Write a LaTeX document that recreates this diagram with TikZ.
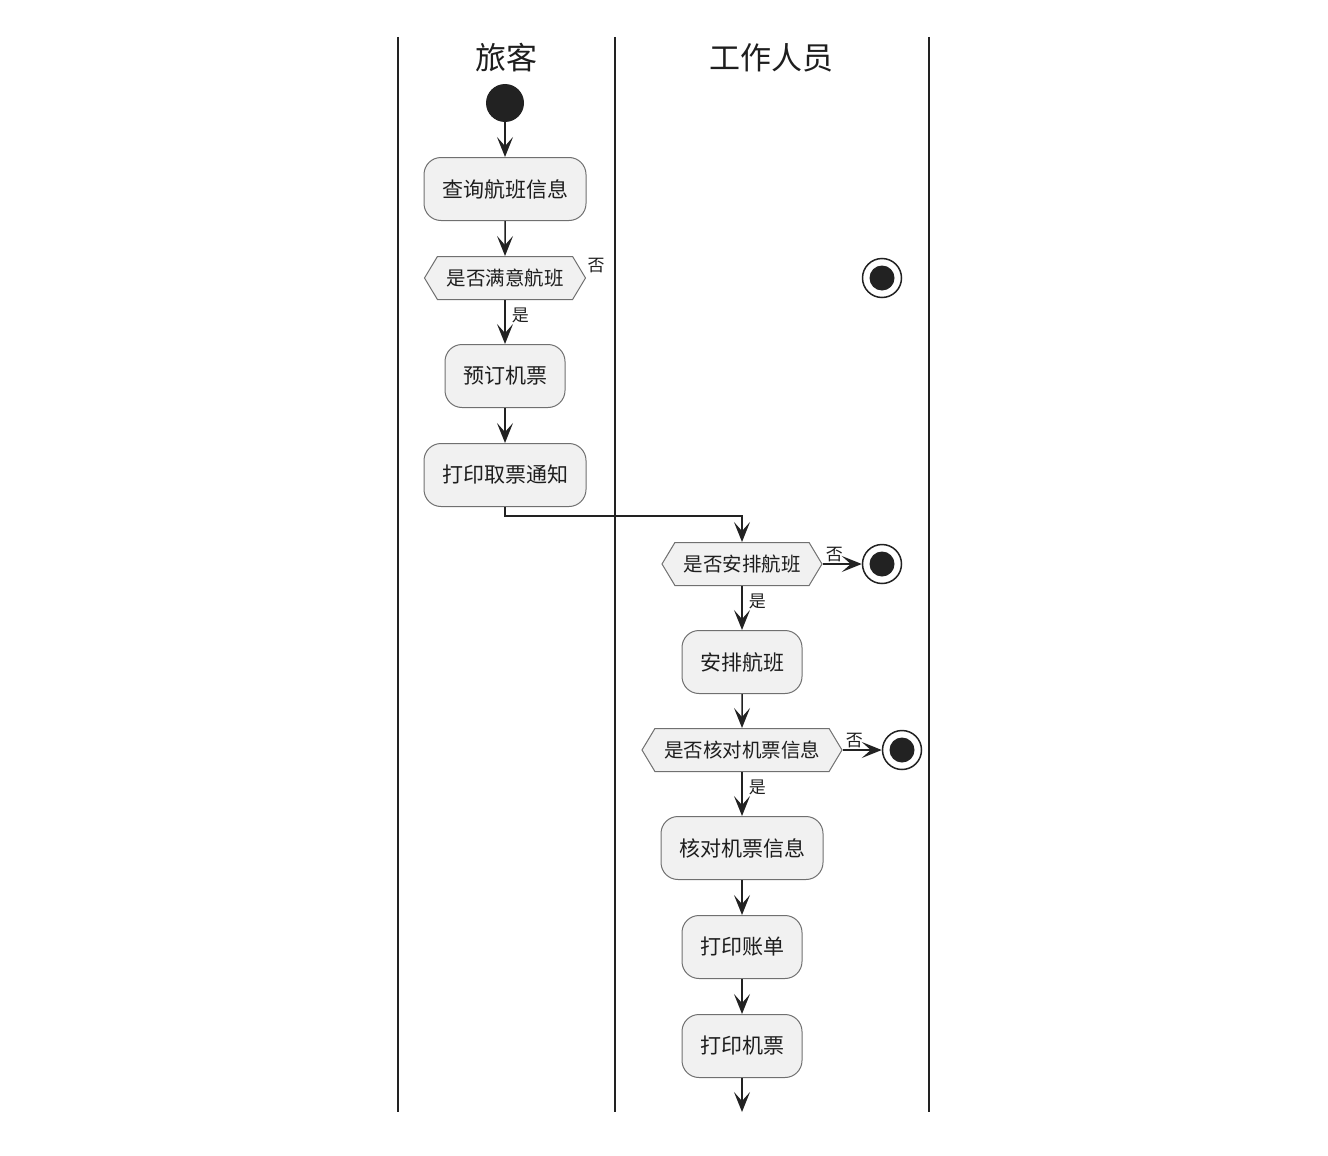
\documentclass[tikz,border=0pt]{standalone}
\usepackage{fontspec}
\setmainfont{Noto Sans CJK SC}
\usetikzlibrary{arrows.meta,shapes.symbols}
\definecolor{ln}{HTML}{222222}
\definecolor{bd}{HTML}{707070}
\definecolor{bx}{HTML}{F1F1F1}
\definecolor{tx}{HTML}{1E1E1E}
\tikzset{
  act/.style={draw=bd,fill=bx,line width=1pt,rounded corners=17pt,minimum height=63pt,inner xsep=18pt,text=tx,font=\fontsize{21}{24}\selectfont},
  dec/.style={draw=bd,fill=bx,line width=1pt,shape=signal,signal to=west and east,signal pointer angle=118,minimum height=43pt,inner xsep=4pt,inner ysep=0pt,text=tx,font=\fontsize{19.5}{22}\selectfont},
  arr/.style={draw=ln,line width=1.5pt,-{Stealth[length=20pt,width=16pt,inset=9pt]}},
  lane/.style={draw=ln,line width=2.2pt},
  lbl/.style={font=\fontsize{17}{20}\selectfont,inner sep=1pt,text=tx},
  title/.style={font=\fontsize{31}{34}\selectfont,text=tx},
  startn/.style={circle,fill=ln,minimum size=38pt,inner sep=0pt},
  endn/.style={circle,draw=ln,fill=white,line width=1.5pt,minimum size=39pt,inner sep=0pt,path picture={\fill[ln] (path picture bounding box.center) circle (12.5pt);}}
}
\begin{document}
\begin{tikzpicture}[x=1pt,y=-1pt]
\useasboundingbox (0,0) rectangle (1328,1156);
% lanes
\coordinate (l1t) at (398,37); \coordinate (l1b) at (398,1112);
\coordinate (l2t) at (615,37); \coordinate (l2b) at (615,1112);
\coordinate (l3t) at (929,37); \coordinate (l3b) at (929,1112);
\draw[lane] (l1t) -- (l1b);
\draw[lane] (l2t) -- (l2b);
\draw[lane] (l3t) -- (l3b);
\node[title] (t1) at (506,58) {旅客};
\node[title] (t2) at (771,58) {工作人员};
% nodes
\node[startn] (s) at (505,103) {};
\node[act] (a1) at (505,189) {查询航班信息};
\node[dec,minimum width=161pt] (d1) at (505,278) {是否满意航班};
\node[endn] (e1) at (882,278) {};
\node[act] (a2) at (505,376) {预订机票};
\node[act] (a3) at (505,475) {打印取票通知};
\node[dec,minimum width=160pt] (d2) at (742,564) {是否安排航班};
\node[endn] (e2) at (882,564) {};
\node[act] (a4) at (742,662) {安排航班};
\node[dec,minimum width=200pt] (d3) at (742,750) {是否核对机票信息};
\node[endn] (e3) at (902,750) {};
\node[act] (a5) at (742,848) {核对机票信息};
\node[act] (a6) at (742,947) {打印账单};
\node[act] (a7) at (742,1046) {打印机票};
\coordinate (fin) at (742,1112);
% connectors
\draw[arr] (s) -- (a1);
\draw[arr] (a1) -- (d1);
\draw[arr] (d1) -- node[lbl,right,pos=0.3,xshift=5pt,yshift=-2pt] {是} (a2);
\node[lbl] (n1) at (596,266) {否};
\draw[arr] (a2) -- (a3);
\draw[arr] (a3.south) -- ++(0,9) -| (d2.north);
\draw[arr] (d2) -- node[lbl,right,pos=0.3,xshift=5pt,yshift=-2pt] {是} (a4);
\draw[arr] (d2.east) -- node[lbl,above,pos=0.3] {否} (e2);
\draw[arr] (a4) -- (d3);
\draw[arr] (d3) -- node[lbl,right,pos=0.3,xshift=5pt,yshift=-2pt] {是} (a5);
\draw[arr] (d3.east) -- node[lbl,above,pos=0.3] {否} (e3);
\draw[arr] (a5) -- (a6);
\draw[arr] (a6) -- (a7);
\draw[arr] (a7) -- (fin);
\end{tikzpicture}
\end{document}
